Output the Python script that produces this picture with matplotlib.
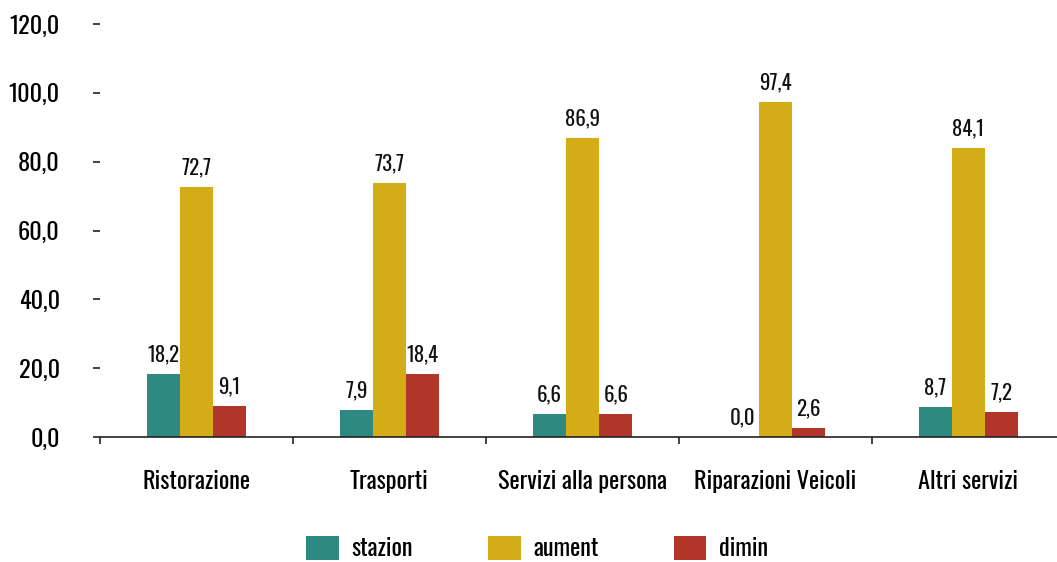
import numpy as np
import matplotlib
matplotlib.use("Agg")
import matplotlib.pyplot as plt

plt.rcParams['font.family'] = ['Oswald', 'DejaVu Sans']

categories = ["Ristorazione", "Trasporti", "Servizi alla persona",
              "Riparazioni Veicoli", "Altri servizi"]
stazion = [18.2, 7.9, 6.6, 0.0, 8.7]
aument = [72.7, 73.7, 86.9, 97.4, 84.1]
dimin = [9.1, 18.4, 6.6, 2.6, 7.2]
series = [("stazion", stazion, "#2E8980"),
          ("aument", aument, "#D4AC17"),
          ("dimin", dimin, "#B2352A")]
yticks = [0, 20, 40, 60, 80, 100, 120]

fig = plt.figure(figsize=(10.57, 5.62), dpi=100)
ax = fig.add_axes([100/1057, 1 - 437/562, 965/1057, 413/562])

x = np.arange(len(categories))
w = 0.172
for i, (name, vals, col) in enumerate(series):
    pos = x + (i - 1) * w
    ax.bar(pos, vals, width=w, color=col, label=name)
    for p, v in zip(pos, vals):
        ax.annotate(f"{v:.1f}".replace(".", ","), (p, v), xytext=(0, 7),
                    textcoords="offset points", ha="center", va="bottom",
                    fontsize=15, color="#111111")

ax.set_xlim(-0.5, 4.5)
ax.set_ylim(0, 120)
ax.set_yticks(yticks)
ax.set_yticklabels([f"{t:.1f}".replace(".", ",") for t in yticks], fontsize=17.5)
ax.tick_params(axis='y', length=5, width=1.2, pad=24, color="#222222")

ax.set_xticks(x)
ax.set_xticklabels(categories, fontsize=17.5)
ax.set_xticks(np.arange(-0.5, 4.5, 1), minor=True)
ax.tick_params(axis='x', which='major', length=0, pad=24)
ax.tick_params(axis='x', which='minor', length=5, width=1.2, color="#222222")

for s in ["top", "right", "left"]:
    ax.spines[s].set_visible(False)
ax.spines["bottom"].set_linewidth(1.2)
ax.spines["bottom"].set_color("#222222")

leg = fig.legend(loc="center", bbox_to_anchor=(0.508, 1 - 548/562), ncol=3,
                 frameon=False, fontsize=17.5, handlelength=1.35, handleheight=1.15,
                 columnspacing=3.1, handletextpad=0.5)

plt.savefig("out.png", dpi=100)
